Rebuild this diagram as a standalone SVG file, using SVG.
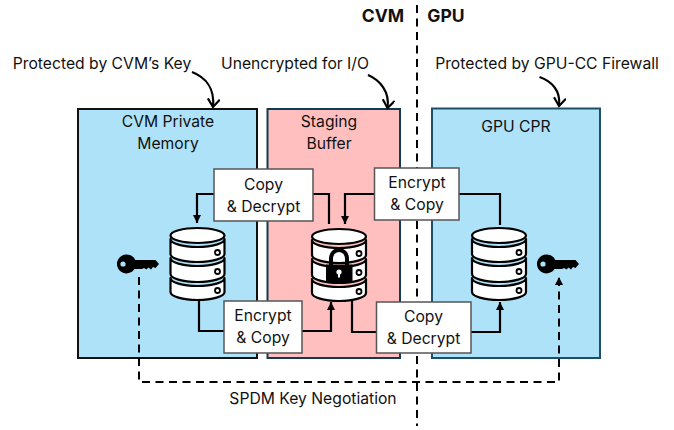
<svg xmlns="http://www.w3.org/2000/svg" width="674" height="430" viewBox="0 0 674 430">
<style>
text{font-family:"Inter","Liberation Sans",sans-serif;font-size:15.7px;fill:#111;text-anchor:middle}
.b{font-weight:700;font-size:17.5px}
.wire{fill:none;stroke:#000;stroke-width:2.2}
.dash{fill:none;stroke:#000;stroke-width:2;stroke-dasharray:8 5.5}
.lb{fill:#fff;stroke:#555;stroke-width:1.5}
.tier{fill:#fff;stroke:#000;stroke-width:2.2;stroke-linejoin:round}
.dot{fill:#fff;stroke:#000;stroke-width:1.8}
.key{fill:#000}
</style>
<defs>
<marker id="a" markerUnits="userSpaceOnUse" markerWidth="10" markerHeight="10" refX="8" refY="4" orient="auto"><path d="M0 0L8 4L0 8Z" fill="#000"/></marker>
<marker id="c" markerUnits="userSpaceOnUse" markerWidth="14" markerHeight="14" refX="9" refY="6" orient="auto"><path d="M1 0L9 6L1 12" fill="none" stroke="#000" stroke-width="2.200"/></marker>
<g id="tiers">
<path class="tier" d="M-27 11A27 8 0 0 0 27 11V26A27 8 0 0 1-27 26Z"/>
<path class="tier" d="M-27 30A27 8 0 0 0 27 30V46A27 8 0 0 1-27 46Z"/>
<path class="tier" d="M-27 50A27 8 0 0 0 27 50V64A27 8 0 0 1-27 64Z"/>
<ellipse class="tier" cx="0" cy="7.500" rx="27" ry="7.500"/>
<circle class="dot" cx="20" cy="24.500" r="2.500"/><circle class="dot" cx="20" cy="43.500" r="2.500"/><circle class="dot" cx="20" cy="62.500" r="2.500"/>
</g>
<path id="keyshape" fill-rule="evenodd" d="M9.500 0A9.500 9.500 0 0 1 18.300 5.500H38.500L42 9.500L38.500 13.500L36 12.500L34 15L31.500 13L29.500 15L27 13.500L25 14.500H17.500A9.500 9.500 0 1 1 9.500 0ZM6 6.900A2.600 2.600 0 1 0 6 12.100A2.600 2.600 0 1 0 6 6.900Z"/>
</defs>
<rect width="674" height="430" fill="#fff"/>

<g id="cvm-memory"><rect x="78" y="109" width="179" height="249" fill="#ade2f9" stroke="#111" stroke-width="2"/>
<text x="168" y="126.500">CVM Private</text><text x="168" y="149">Memory</text></g>
<g id="staging-buffer"><rect x="267.500" y="109" width="132.500" height="249" fill="#ffbfbf" stroke="#123a52" stroke-width="2"/>
<text x="329" y="126.500">Staging</text><text x="329" y="149">Buffer</text></g>
<g id="gpu-cpr"><rect x="432" y="108.500" width="168" height="249.500" fill="#ade2f9" stroke="#1f4f68" stroke-width="2"/>
<text x="516" y="132">GPU CPR</text></g>

<g id="connectors">
<path class="dash" d="M417 5V426"/>
<path class="dash" marker-end="url(#a)" d="M139 277V382H559V277"/>
<path class="wire" marker-end="url(#a)" d="M214 194H197V223"/>
<path class="wire" d="M313 194H329V224"/>
<path class="wire" d="M199 300V331H224"/>
<path class="wire" marker-end="url(#a)" d="M302 331H331V302"/>
<path class="wire" marker-end="url(#a)" d="M374 194H345V224"/>
<path class="wire" d="M459 194H500V225"/>
<path class="wire" d="M352 301V332H376"/>
<path class="wire" marker-end="url(#a)" d="M471 332H500V302"/>
<path class="wire" marker-end="url(#c)" d="M192 72C205 77 215 88 213 107"/>
<path class="wire" marker-end="url(#c)" d="M368 75C380 80 390 92 387.500 108"/>
<path class="wire" marker-end="url(#c)" d="M539.500 77C551 81 561 90 559 106"/>
</g>

<g id="db-left"><rect x="170" y="235" width="54" height="55" fill="#ade2f9"/><use href="#tiers" x="197.500" y="228"/></g>
<g id="db-mid"><rect x="312" y="236" width="54" height="55" fill="#ffbfbf"/><use href="#tiers" x="339" y="229"/>
<path d="M331 265V258.500A8 8.500 0 0 1 347 258.500V265" fill="none" stroke="#000" stroke-width="4"/>
<rect x="326" y="264.500" width="26.500" height="18" fill="#000"/>
<circle cx="339" cy="272" r="2.600" fill="#fff"/><rect x="338" y="273" width="2" height="4.500" fill="#fff"/></g>
<g id="db-right"><rect x="472" y="235" width="54" height="55" fill="#ade2f9"/><use href="#tiers" x="499" y="228"/></g>

<g id="key-left"><use href="#keyshape" x="117" y="254.500" class="key"/></g>
<g id="key-right"><use href="#keyshape" x="537" y="254.500" class="key"/></g>

<g id="label-copy-decrypt-left"><rect class="lb" x="214" y="169" width="99" height="52"/><text x="263.500" y="190">Copy</text><text x="263.500" y="212">&amp; Decrypt</text></g>
<g id="label-encrypt-copy-left"><rect class="lb" x="224" y="301" width="78" height="52"/><text x="263" y="321">Encrypt</text><text x="263" y="343">&amp; Copy</text></g>
<g id="label-encrypt-copy-right"><rect class="lb" x="374.500" y="168" width="84.500" height="52"/><text x="417" y="188">Encrypt</text><text x="417" y="210">&amp; Copy</text></g>
<g id="label-copy-decrypt-right"><rect class="lb" x="376.500" y="302" width="94.500" height="51"/><text x="423.500" y="322">Copy</text><text x="423.500" y="344">&amp; Decrypt</text></g>

<g id="annotations">
<text class="b" x="383" y="22">CVM</text><text class="b" x="446" y="22">GPU</text>
<text x="102" y="69">Protected by CVM’s Key</text>
<text x="295" y="69">Unencrypted for I/O</text>
<text x="547" y="69">Protected by GPU-CC Firewall</text>
<text x="313" y="404">SPDM Key Negotiation</text>
</g>
</svg>
